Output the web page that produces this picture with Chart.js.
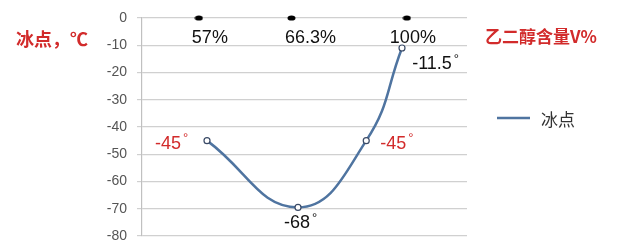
<!DOCTYPE html>
<html>
<head>
<meta charset="utf-8">
<script src="https://cdn.jsdelivr.net/npm/chart.js@4/dist/chart.umd.min.js"></script>
<style>
  html, body { margin: 0; padding: 0; background: #fff; overflow: hidden; }
  canvas { display: block; }
</style>
</head>
<body>
<canvas id="freezeChart" width="640" height="242"></canvas>
<script>
// Kurve: Position auf der (versteckten) x-Achse und Gefrierpunkt
const curveX = [20, 48, 69, 80];
const freezePoints = [-45, -69.5, -45, -11];
const pointLabels = ['-45°', '-68°', '-45°', '-11.5°'];
const pointLabelColors = ['#d22b2b', '#111', '#d22b2b', '#111'];

// Obere Markierungen: Glykolanteil
const contentX = [17.5, 46, 81.5];
const contentLabels = ['57%', '66.3%', '100%'];

const yTicks = [0, -10, -20, -30, -40, -50, -60, -70, -80];

const latin = '"Liberation Sans", Arial, sans-serif';
const cjk = '"Noto Sans CJK SC", "Liberation Sans", sans-serif';

// kleine schwarze Ellipse als Punktstil
const dot = document.createElement('canvas');
dot.width = 9; dot.height = 6;
(function () {
    const d = dot.getContext('2d');
    d.fillStyle = '#000';
    d.beginPath();
    d.ellipse(4.5, 3, 4, 2.6, 0, 0, Math.PI * 2);
    d.fill();
})();

// eigene Beschriftungen (Werte, Prozente, Titel, Legende)
const labelPlugin = {
    id: 'labels',
    afterDatasetsDraw(chart) {
        const c = chart.ctx;
        const xs = chart.scales.x, ys = chart.scales.y;
        c.save();
        c.textBaseline = 'middle';

        // Prozentwerte unter den schwarzen Punkten
        c.fillStyle = '#111';
        c.font = '18px ' + latin;
        c.textAlign = 'center';
        const labelShift = [11, 19, 6];
        contentLabels.forEach((t, i) => {
            c.fillText(t, xs.getPixelForValue(contentX[i]) + labelShift[i], ys.getPixelForValue(0) + 20);
        });

        // Werte an der Kurve
        const offs = [[-35, 3], [3, 16], [31, 3], [34, 16]];
        pointLabels.forEach((t, i) => {
            const px = xs.getPixelForValue(curveX[i]) + offs[i][0];
            const py = ys.getPixelForValue(freezePoints[i]) + offs[i][1];
            c.fillStyle = pointLabelColors[i];
            c.font = '18px ' + latin;
            const num = t.replace('°', '');
            const w = c.measureText(num).width;
            c.textAlign = 'left';
            c.fillText(num, px - w / 2 - 4, py);
            c.font = '13px ' + latin;
            c.fillText('°', px + w / 2 - 2, py - 5);
        });

        // Achsentitel
        c.fillStyle = '#d22b2b';
        c.font = 'bold 18px ' + cjk;
        c.textAlign = 'left';
        c.fillText('冰点，℃', 16, 39);
        c.font = 'bold 17px ' + cjk;
        c.fillText('乙二醇含量V%', 485, 37);

        // Legende
        const ds = chart.data.datasets[0];
        c.strokeStyle = ds.borderColor;
        c.lineWidth = 2.5;
        c.beginPath();
        c.moveTo(497, 118);
        c.lineTo(530, 118);
        c.stroke();
        c.fillStyle = '#333';
        c.font = '17px ' + cjk;
        c.fillText(ds.label, 541, 120);
        c.restore();
    }
};

new Chart(document.getElementById('freezeChart'), {
    type: 'line',
    data: {
        datasets: [{
            label: '冰点',
            data: curveX.map((x, i) => ({ x: x, y: freezePoints[i] })),
            borderColor: '#4f74a0',
            borderWidth: 2.5,
            tension: 0.45,
            pointRadius: 3,
            pointBackgroundColor: '#fff',
            pointBorderColor: '#3a4a66',
            pointBorderWidth: 1.2,
            clip: false
        }, {
            label: 'gehalt',
            data: contentX.map(x => ({ x: x, y: 0 })),
            showLine: false,
            pointStyle: dot,
            clip: false
        }]
    },
    options: {
        responsive: false,
        animation: false,
        layout: { padding: { left: 0, right: 173, top: 18, bottom: 6 } },
        plugins: { legend: { display: false }, tooltip: { enabled: false } },
        scales: {
            x: { type: 'linear', min: 0, max: 100, display: false },
            y: {
                min: -80,
                max: 0,
                afterFit(scale) {
                    scale.width = 142;
                    scale.paddingTop = 0;
                    scale.paddingBottom = 0;
                },
                afterBuildTicks(scale) { scale.ticks = yTicks.map(v => ({ value: v })); },
                ticks: {
                    color: '#555',
                    font: { family: latin, size: 14 },
                    padding: 10
                },
                grid: { color: '#d0d0d0', lineWidth: 1.2, tickLength: 5 },
                border: { color: '#c0c0c0', width: 1.2 }
            }
        }
    },
    plugins: [labelPlugin]
});
</script>
</body>
</html>
